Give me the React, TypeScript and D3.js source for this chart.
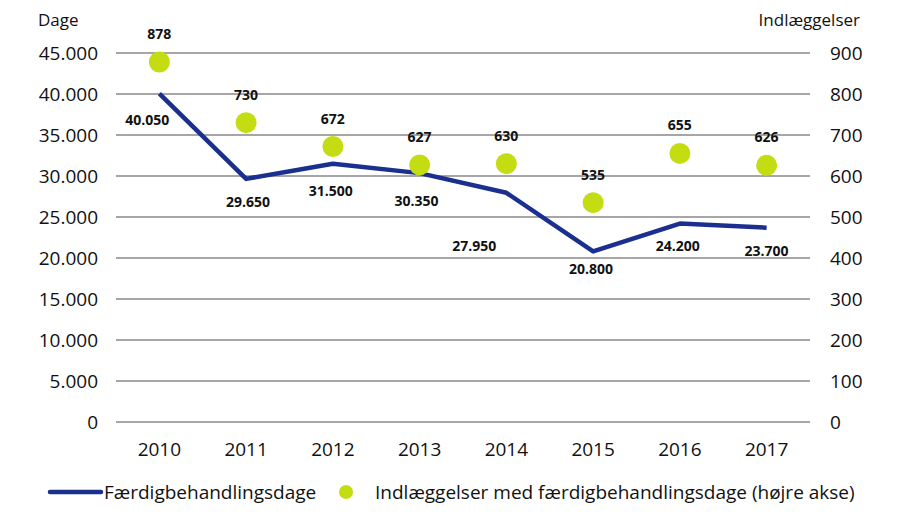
import React from "react";
import * as d3 from "d3";

const years = ["2010", "2011", "2012", "2013", "2014", "2015", "2016", "2017"];
const dage = [40050, 29650, 31500, 30350, 27950, 20800, 24200, 23700];
const indlaeggelser = [878, 730, 672, 627, 630, 535, 655, 626];
const leftTicks = [0, 5000, 10000, 15000, 20000, 25000, 30000, 35000, 40000, 45000];
const rightTicks = [0, 100, 200, 300, 400, 500, 600, 700, 800, 900];

const W = 900;
const H = 525;
const margin = { top: 53, right: 90, bottom: 103, left: 116 };
const LINE = "#1b2f8f";
const DOT = "#c4dc12";
const FONT = "'Open Sans', 'Noto Sans', sans-serif";

// label nudges for the line labels (dx, dy)
const lineLabelShift: [number, number][] = [
  [-12, 26], [2, 23], [-2, 27], [-3, 28], [-32, 53], [-2, 18], [-2, 22], [0, 23],
];

const fmt = (v: number) => d3.format(",")(v).replace(/,/g, ".");

export default function App() {
  const x = d3
    .scaleBand<string>()
    .domain(years)
    .range([margin.left, W - margin.right]);
  const yL = d3.scaleLinear().domain([0, 45000]).range([H - margin.bottom, margin.top]);
  const yR = d3.scaleLinear().domain([0, 900]).range([H - margin.bottom, margin.top]);
  const cx = (y: string) => (x(y) ?? 0) + x.bandwidth() / 2;

  const line = d3
    .line<number>()
    .x((_, i) => cx(years[i]))
    .y((d) => yL(d));

  return (
    <svg width={W} height={H} style={{ display: "block", position: "absolute", left: 0, top: 0 }} fontFamily={FONT}>
      <rect width={W} height={H} fill="#fff" />
      {leftTicks.map((t) => (
        <line key={t} x1={margin.left} x2={W - margin.right} y1={yL(t)} y2={yL(t)} stroke="#a6a6a6" strokeWidth={2} />
      ))}
      {leftTicks.map((t) => (
        <text key={t} x={98} y={yL(t)} dy="0.36em" textAnchor="end" fontSize={19} fill="#111">
          {fmt(t)}
        </text>
      ))}
      {rightTicks.map((t) => (
        <text key={t} x={830} y={yR(t)} dy="0.36em" textAnchor="start" fontSize={19} fill="#111">
          {t}
        </text>
      ))}
      <text x={38} y={26} fontSize={17} fill="#111">Dage</text>
      <text x={860} y={26} fontSize={17} fill="#111" textAnchor="end">Indlæggelser</text>
      {years.map((y) => (
        <text key={y} x={cx(y)} y={449} dy="0.36em" textAnchor="middle" fontSize={19} fill="#111">
          {y}
        </text>
      ))}
      <path d={line(dage) ?? ""} fill="none" stroke={LINE} strokeWidth={4.5} strokeLinejoin="round" />
      {indlaeggelser.map((v, i) => (
        <circle key={i} cx={cx(years[i])} cy={yR(v)} r={10.5} fill={DOT} />
      ))}
      {indlaeggelser.map((v, i) => (
        <text key={i} x={cx(years[i])} y={yR(v) - 28} dy="0.36em" textAnchor="middle" fontSize={14} fontWeight="bold" fill="#111">
          {v}
        </text>
      ))}
      {dage.map((v, i) => (
        <text
          key={i}
          x={cx(years[i]) + lineLabelShift[i][0]}
          y={yL(v) + lineLabelShift[i][1]}
          dy="0.36em"
          textAnchor="middle"
          fontSize={14}
          fontWeight="bold"
          fill="#111"
        >
          {fmt(v)}
        </text>
      ))}
      <line x1={50} x2={101} y1={492} y2={492} stroke={LINE} strokeWidth={4.5} strokeLinecap="round" />
      <text x={104} y={492} dy="0.36em" fontSize={19} fill="#111">Færdigbehandlingsdage</text>
      <circle cx={346} cy={492} r={7} fill={DOT} />
      <text x={375} y={492} dy="0.36em" fontSize={19} fill="#111">
        Indlæggelser med færdigbehandlingsdage (højre akse)
      </text>
    </svg>
  );
}
